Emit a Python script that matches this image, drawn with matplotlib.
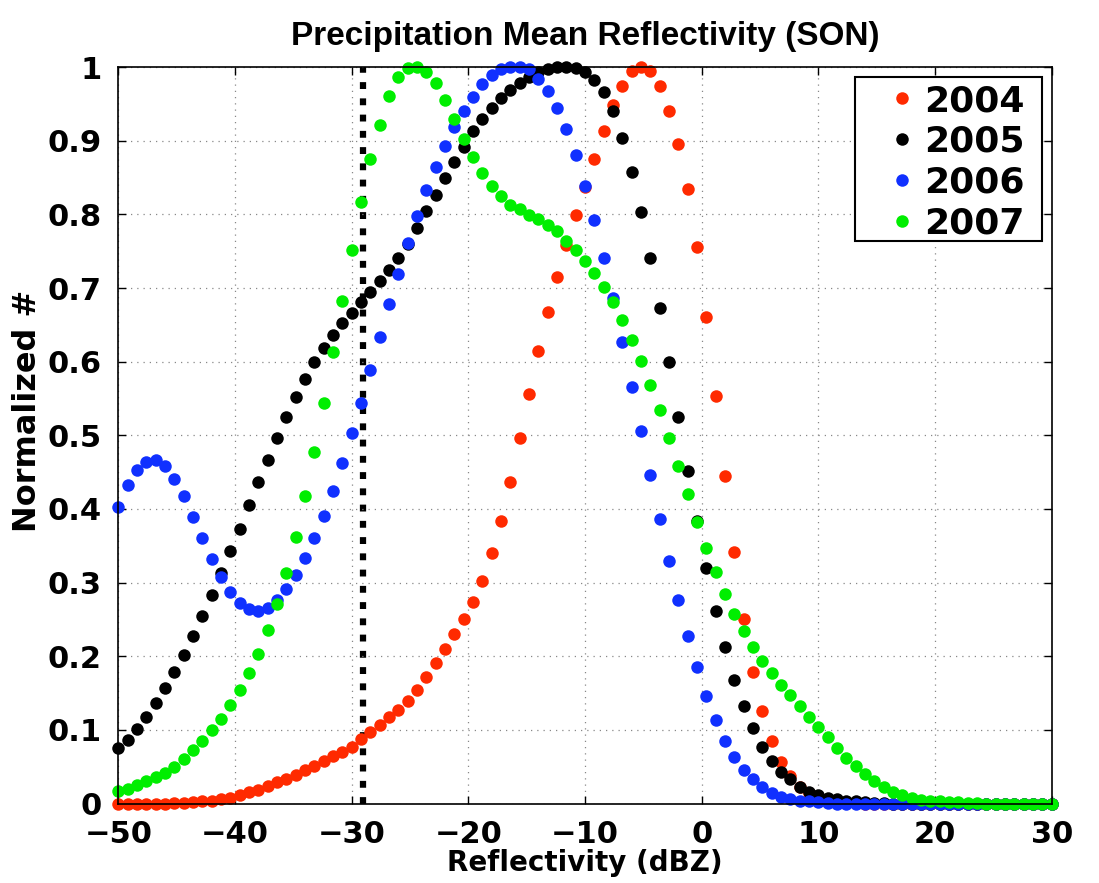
import numpy as np
import matplotlib
matplotlib.use("Agg")
import matplotlib.pyplot as plt
from matplotlib.patches import Rectangle

# REFLECTIVITY BINS (dBZ)
refl = np.linspace(-50, 30, 101)

# NORMALIZED COUNTS
y2004 = [0.0, 0.0, 0.0, 0.0, 0.0, 0.0, 0.001, 0.001, 0.002, 0.003,
         0.004, 0.006, 0.008, 0.012, 0.015, 0.019, 0.024, 0.029, 0.033, 0.039,
         0.045, 0.051, 0.058, 0.064, 0.070, 0.077, 0.088, 0.097, 0.107, 0.117,
         0.127, 0.139, 0.154, 0.172, 0.191, 0.210, 0.230, 0.251, 0.274, 0.302,
         0.340, 0.383, 0.437, 0.496, 0.556, 0.614, 0.667, 0.715, 0.758, 0.799,
         0.837, 0.875, 0.913, 0.948, 0.975, 0.995, 1.0, 0.995, 0.975, 0.941,
         0.895, 0.835, 0.756, 0.661, 0.554, 0.445, 0.341, 0.251, 0.179, 0.125,
         0.085, 0.057, 0.037, 0.023, 0.014, 0.008, 0.005, 0.003, 0.002, 0.001,
         0.0, 0.0, 0.0, 0.0, 0.0, 0.0, 0.0, 0.0, 0.0, 0.0,
         0.0, 0.0, 0.0, 0.0, 0.0, 0.0, 0.0, 0.0, 0.0, 0.0, 0.0]
y2005 = [0.075, 0.086, 0.101, 0.117, 0.136, 0.157, 0.178, 0.202, 0.227, 0.255,
         0.283, 0.313, 0.343, 0.373, 0.405, 0.436, 0.467, 0.497, 0.525, 0.552,
         0.577, 0.599, 0.618, 0.636, 0.652, 0.666, 0.681, 0.694, 0.710, 0.725,
         0.741, 0.760, 0.782, 0.804, 0.827, 0.850, 0.871, 0.891, 0.913, 0.930,
         0.945, 0.958, 0.969, 0.979, 0.987, 0.994, 0.998, 1.0, 1.0, 0.999,
         0.994, 0.983, 0.966, 0.940, 0.904, 0.858, 0.803, 0.741, 0.673, 0.600,
         0.525, 0.452, 0.383, 0.320, 0.262, 0.212, 0.168, 0.133, 0.102, 0.077,
         0.058, 0.043, 0.033, 0.022, 0.015, 0.011, 0.008, 0.006, 0.004, 0.003,
         0.002, 0.001, 0.001, 0.0, 0.0, 0.0, 0.0, 0.0, 0.0, 0.0,
         0.0, 0.0, 0.0, 0.0, 0.0, 0.0, 0.0, 0.0, 0.0, 0.0, 0.0]
y2006 = [0.402, 0.432, 0.453, 0.464, 0.466, 0.458, 0.441, 0.417, 0.389, 0.361,
         0.332, 0.307, 0.287, 0.272, 0.264, 0.261, 0.266, 0.276, 0.291, 0.310,
         0.334, 0.361, 0.391, 0.425, 0.463, 0.503, 0.544, 0.589, 0.633, 0.678,
         0.719, 0.761, 0.798, 0.833, 0.865, 0.893, 0.918, 0.941, 0.960, 0.977,
         0.989, 0.998, 1.0, 1.0, 0.997, 0.984, 0.968, 0.945, 0.916, 0.881,
         0.839, 0.792, 0.741, 0.686, 0.627, 0.566, 0.506, 0.446, 0.387, 0.329,
         0.277, 0.228, 0.185, 0.146, 0.113, 0.085, 0.063, 0.046, 0.033, 0.022,
         0.014, 0.009, 0.006, 0.004, 0.003, 0.002, 0.001, 0.0, 0.0, 0.0,
         0.0, 0.0, 0.0, 0.0, 0.0, 0.0, 0.0, 0.0, 0.0, 0.0,
         0.0, 0.0, 0.0, 0.0, 0.0, 0.0, 0.0, 0.0, 0.0, 0.0, 0.0]
y2007 = [0.017, 0.020, 0.025, 0.031, 0.036, 0.042, 0.050, 0.061, 0.073, 0.085,
         0.100, 0.115, 0.134, 0.154, 0.177, 0.203, 0.235, 0.271, 0.313, 0.362,
         0.417, 0.478, 0.544, 0.613, 0.683, 0.752, 0.817, 0.875, 0.922, 0.961,
         0.986, 0.999, 1.0, 0.994, 0.978, 0.955, 0.929, 0.903, 0.878, 0.856,
         0.838, 0.825, 0.813, 0.807, 0.799, 0.794, 0.786, 0.777, 0.764, 0.752,
         0.737, 0.720, 0.701, 0.681, 0.656, 0.630, 0.601, 0.568, 0.534, 0.497,
         0.459, 0.420, 0.382, 0.347, 0.314, 0.284, 0.258, 0.234, 0.213, 0.194,
         0.177, 0.161, 0.148, 0.133, 0.118, 0.104, 0.090, 0.075, 0.062, 0.051,
         0.040, 0.031, 0.023, 0.016, 0.011, 0.008, 0.005, 0.004, 0.003, 0.002,
         0.002, 0.001, 0.001, 0.0, 0.0, 0.0, 0.0, 0.0, 0.0, 0.0, 0.0]

years = ["2004", "2005", "2006", "2007"]
colors = ["#ff2a00", "#000000", "#1030ff", "#00ee00"]
threshold = -29.0

plt.rcParams['font.family'] = ['DejaVu Sans']
plt.rcParams['font.weight'] = 'bold'

fig = plt.figure(figsize=(10.99, 8.83), dpi=100)
ax = fig.add_axes([0.1076, 0.090, 0.8494, 0.834])

for yr, yv, c in zip(years, [y2004, y2005, y2006, y2007], colors):
    ax.plot(refl, yv, 'o', color=c, markersize=9, markeredgewidth=0, label=yr, clip_on=False)

# THRESHOLD LINE
ax.axvline(threshold, color='black', linewidth=4.5, linestyle=(0, (1.1, 1.5)), dash_capstyle='butt', zorder=1)

ax.set_xlim(-50, 30)
ax.set_ylim(0, 1)
ax.set_xticks(np.arange(-50, 31, 10))
ax.set_yticks(np.arange(0, 1.01, 0.1))
ax.set_yticklabels(["0"] + ["%.1f" % v for v in np.arange(0.1, 0.95, 0.1)] + ["1"])
ax.tick_params(direction='in', length=6, width=1, labelsize=22, top=True, right=True)
ax.tick_params(axis='x', pad=12)
ax.tick_params(axis='y', pad=12)
for lab in ax.get_xticklabels() + ax.get_yticklabels():
    lab.set_fontweight('bold')
ax.grid(True, color='#888888', linestyle=(0, (1, 4)), linewidth=0.9)
for sp in ax.spines.values():
    sp.set_linewidth(1.2)

ax.set_title("Precipitation Mean Reflectivity (SON)", fontsize=24, fontweight='bold', pad=16,
             family=['Liberation Sans', 'DejaVu Sans'])
ax.set_xlabel("Reflectivity (dBZ)", fontsize=20, fontweight='bold', labelpad=0)
ax.set_ylabel("Normalized #", fontsize=23, fontweight='bold')
ax.yaxis.set_label_coords(-0.081, 0.533)

# LEGEND (frame drawn separately so the box can be sized like the original)
leg = ax.legend(loc='upper left', bbox_to_anchor=(0.7955, 0.977), fontsize=26, frameon=False,
                handletextpad=-0.55, borderpad=0.0, labelspacing=0.19, handlelength=2.3,
                borderaxespad=0)
ax.add_patch(Rectangle((0.789, 0.764), 0.2005, 0.223, transform=ax.transAxes, fill=True,
                       facecolor='white', edgecolor='black', linewidth=1.5, zorder=4))
leg.set_zorder(5)

fig.savefig("out.png", dpi=100)
